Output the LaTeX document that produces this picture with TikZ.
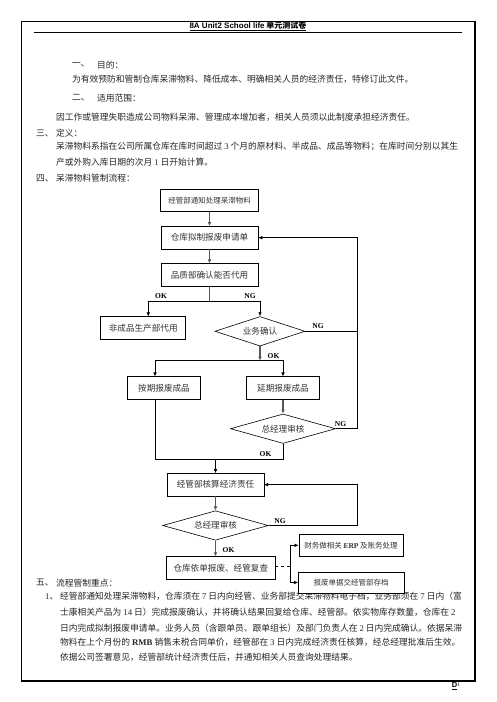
\documentclass[tikz,border=0pt]{standalone}
\usepackage{fontspec}
\setmainfont{Noto Sans CJK SC}
\newfontfamily\latin{Liberation Serif}
\newfontfamily\latinsans{Liberation Sans}
\usetikzlibrary{arrows.meta, shapes.geometric, positioning, calc}

\newcommand{\lat}[1]{{\latin #1}}

\begin{document}
\begin{tikzpicture}[
                x=1pt, y=-1pt,
                >={Latex[length=4pt,width=3.6pt]},
                bodytext/.style={anchor=west, inner sep=0pt, text=black!85,
                font=\fontsize{8.75}{10}\selectfont},
                procbox/.style={draw, line width=0.6pt, fill=white, minimum width=#1,
                minimum height=22.5pt, inner sep=1pt, text=black!80,
                font=\fontsize{8.6}{10}\selectfont},
                procbox/.default=97pt,
                smallbox/.style={procbox=#1, font=\fontsize{7.5}{9}\selectfont},
                decision/.style={diamond, draw, line width=0.6pt, aspect=3, fill=white,
                minimum width=#1, minimum height=29.5pt, inner sep=0pt, text=black!80,
                font=\fontsize{8.6}{10}\selectfont},
                flowarrow/.style={->, line width=1.3pt, black!65},
                link/.style={line width=0.6pt},
                verdict/.style={inner sep=0pt, font=\latin\bfseries\fontsize{7.5}{9}\selectfont},
                ]

                % ── Page: bounding box, frame and running head ──
                \useasboundingbox (0,0) rectangle (496,702);
                \fill[white] (0,0) rectangle (496,702);
                \draw[line width=0.8pt] (21.5,681) -- (21.5,21) -- (475,21);
                \draw[line width=1.8pt] (475,20.5) -- (475,681) -- (21,681);
                \node[inner sep=0pt, font=\fontsize{8}{9}\selectfont] (head) at (248,26)
                    {\underline{{\latinsans\bfseries 8A Unit2 School life} {\bfseries 单元测试卷}}};
                \draw[line width=0.7pt] (34,32) -- (462,32);
                \node[inner sep=0pt, font=\fontsize{7.5}{9}\selectfont] (pageno) at (456,686)
                    {\underline{\latinsans\bfseries D}\raisebox{1.5pt}{\fontsize{5.5}{6}\selectfont\latin 1}};

                % ── Sections one to four ──
                \node[bodytext] (num1) at (72,65) {一、};
                \node[bodytext] (title1) at (97,65) {目的：};
                \node[bodytext] (purpose) at (72,79) {为有效预防和管制仓库呆滞物料、降低成本、明确相关人员的经济责任，特修订此文件。};
                \node[bodytext] (num2) at (72,98) {二、};
                \node[bodytext] (title2) at (97,98) {适用范围：};
                \node[bodytext] (scope) at (56,117) {因工作或管理失职造成公司物料呆滞、管理成本增加者，相关人员须以此制度承担经济责任。};
                \node[bodytext] (num3) at (36,133) {三、};
                \node[bodytext] (title3) at (56,133) {定义：};
                \node[bodytext] (defA) at (56,147) {呆滞物料系指在公司所属仓库在库时间超过 \lat{3} 个月的原材料、半成品、成品等物料；在库时间分别以其生};
                \node[bodytext] (defB) at (56,162) {产或外购入库日期的次月 \lat{1} 日开始计算。};
                \node[bodytext] (num4) at (36,178) {四、};
                \node[bodytext] (title4) at (56,178) {呆滞物料管制流程：};

                % ── Section five ──
                \node[bodytext] (num5) at (36,582.7) {五、};
                \node[bodytext] (title5) at (56,582.7) {流程管制重点：};
                \node[bodytext] (item1) at (45,596.7) {\lat{1}、};
                \node[bodytext] (keyA) at (60,596.7) {经管部通知处理呆滞物料，仓库须在 \lat{7} 日内向经管、业务部提交呆滞物料电子档，业务部须在 \lat{7} 日内（富};
                \node[bodytext] (keyB) at (60,612.7) {士康相关产品为 \lat{14} 日）完成报废确认，并将确认结果回复给仓库、经管部。依实物库存数量，仓库在 \lat{2}};
                \node[bodytext] (keyC) at (60,627.7) {日内完成拟制报废申请单。业务人员（含跟单员、跟单组长）及部门负责人在 \lat{2} 日内完成确认。依据呆滞};
                \node[bodytext] (keyD) at (60,642.7) {物料在上个月份的 \lat{\bfseries RMB} 销售未税合同单价，经管部在 \lat{3} 日内完成经济责任核算，经总经理批准后生效。};
                \node[bodytext] (keyE) at (60,657.3) {依据公司签署意见，经管部统计经济责任后，并通知相关人员查询处理结果。};

                % ── Flow: request and quality check ──
                \node[smallbox=97.6pt] (notify) at (209.5,200.5) {经管部通知处理呆滞物料};
                \node[procbox] (apply) at (209.5,237.7) {仓库拟制报废申请单};
                \node[procbox] (quality) at (209.5,275) {品质部确认能否代用};
                \draw[flowarrow] (notify) -- (apply);
                \draw[flowarrow] (apply) -- (quality);
                \coordinate (split) at (209.5,301);
                \draw[flowarrow, -] (quality) -- (split);

                \node[procbox=85pt] (substitute) at (143.2,328) {非成品生产部代用};
                \node[decision=90pt] (biz) at (260,331.3) {业务确认};
                \coordinate (okL) at (148.3,301);
                \draw[link, ->] (split) -- (okL) -- (okL |- substitute.north);
                \draw[link, ->] (split) -| (biz.north);
                \node[verdict] (okSplit) at (161,296.5) {OK};
                \node[verdict] (ngSplit) at (250,296.5) {NG};

                % ── Flow: business check and finished goods ──
                \coordinate (backtop) at (357,237.7);
                \draw[link] (biz.east) -- (biz.east -| backtop);
                \node[verdict] (ngBiz) at (318,326.5) {NG};
                \coordinate (okjoin) at (260,360.7);
                \draw[flowarrow] (biz.south) -- (okjoin);
                \node[verdict] (okBiz) at (273.5,356.5) {OK};

                \node[procbox=73.4pt] (ontime) at (164,388) {按期报废成品};
                \node[procbox=72.6pt] (delayed) at (283,388) {延期报废成品};
                \coordinate (okleft) at (155,360.7);
                \draw[link, ->] (okjoin) -- (okleft) -- (okleft |- ontime.north);
                \draw[link, ->] (okjoin) -| (delayed.north);

                \node[decision=105pt] (gm1) at (283,428.7) {总经理审核};
                \draw[flowarrow] (delayed) -- (gm1);
                \draw[link, ->] (gm1.east) -- (gm1.east -| backtop) -- (backtop) -- (apply.east);
                \node[verdict] (ngGm1) at (340.5,424) {NG};

                % ── Flow: liability and final scrapping ──
                \coordinate (botleft) at (155,459.3);
                \coordinate (botright) at (283,459.3);
                \draw[link] (okleft |- ontime.south) -- (botleft) -- (botright) -- (gm1.south);
                \node[verdict] (okGm1) at (265.5,454) {OK};

                \node[procbox=96.6pt] (account) at (215.5,484.7) {经管部核算经济责任};
                \draw[link, ->] (botleft -| account.north) -- (account.north);
                \node[decision=105.6pt] (gm2) at (215.5,525.5) {总经理审核};
                \draw[flowarrow] (account) -- (gm2);
                \coordinate (backlow) at (357,484.7);
                \draw[link, ->] (gm2.east) -- (gm2.east -| backlow) -- (backlow) -- (account.east);
                \node[verdict] (ngGm2) at (280,521.5) {NG};

                \node[procbox=108.3pt] (execute) at (220.8,568) {仓库依单报废、经管复查};
                \draw[flowarrow] (gm2.south) -- (gm2.south |- execute.north);
                \node[verdict] (okGm2) at (228.5,550.5) {OK};

                \node[smallbox=104.3pt] (finance) at (351,545.3) {财务做相关 \lat{\bfseries ERP} 及账务处理};
                \node[smallbox=105.7pt, minimum height=21pt] (archive) at (351.2,582.5) {报废单据交经管部存档};
                \coordinate (fork) at (290.5,566);
                \draw[link, dashed] (execute.east |- fork) -- (fork);
                \draw[link] (fork |- finance.west) -- (fork |- archive.west);
                \draw[link, ->] (fork |- finance.west) -- (finance.west);
                \draw[link, ->] (fork |- archive.west) -- (archive.west);

\end{tikzpicture}
\end{document}
